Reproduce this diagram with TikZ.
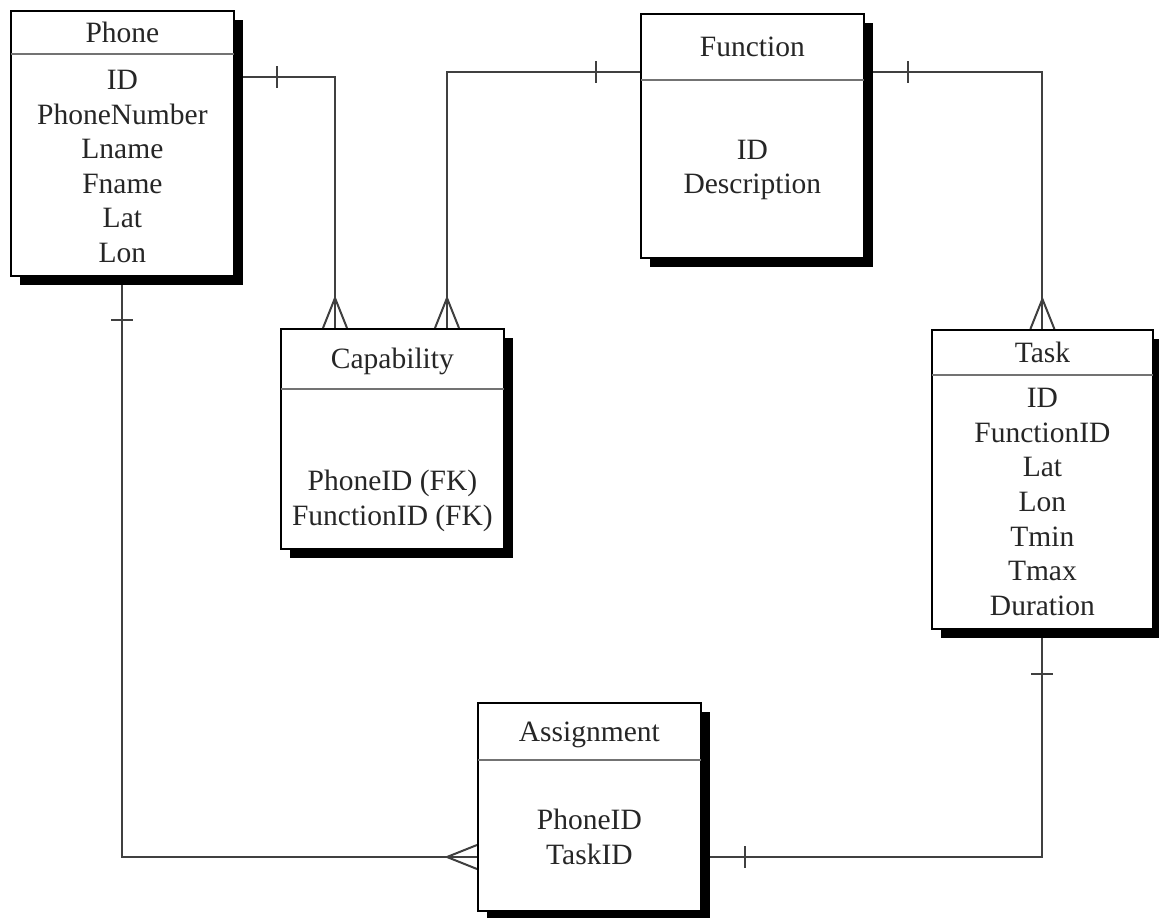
\documentclass[tikz,border=0pt]{standalone}
\usepackage{fontspec}
\setmainfont{Liberation Serif}
\usetikzlibrary{calc,shadows}
\pgfdeclarelayer{links}
\pgfdeclarelayer{paper}
\pgfsetlayers{paper,links,main}

\tikzset{
  entity/.style={draw=black, line width=1.8pt, fill=white, anchor=north west,
    inner sep=0pt,
    drop shadow={shadow xshift=9pt, shadow yshift=-9pt, fill=black, opacity=1}},
  headrule/.style={draw=black!55, line width=2.6pt},
  title/.style={font=\fontsize{29.5}{34.6}\selectfont, text=black!85,
    inner sep=0pt, text height=20pt, text depth=0pt, anchor=center},
  fields/.style={font=\fontsize{29.5}{34.6}\selectfont, text=black!85,
    inner sep=0pt, align=center, anchor=center},
  conn/.style={draw=black!75, line width=2pt},
}

% #1 name, #2 left, #3 top, #4 width, #5 height, #6 header height,
% #7 title, #8 centre of the field list, #9 fields
\newcommand\erentity[9]{%
  \node[entity, minimum width=#4pt, minimum height=#5pt] (#1) at (#2,#3) {};
  \draw[headrule] ([shift={(1pt,-#6pt)}]#1.north west) -- ([shift={(-1pt,-#6pt)}]#1.north east);
  \node[title] (#1-title) at ([yshift=-#6pt/2]#1.north) {#7};
  \node[fields] (#1-fields) at (#1.north |- 0,#8) {#9};
}

\begin{document}
\begin{tikzpicture}[x=1pt,y=-1pt]
\begin{pgfonlayer}{paper}
\fill[white] (0,0) rectangle (1159,918);
\end{pgfonlayer}
\useasboundingbox (0,0) rectangle (1159,918);

% entities
\erentity{phone}{10}{10}{223}{265}{44}{Phone}{166.5}{ID\\PhoneNumber\\Lname\\Fname\\Lat\\Lon}
\erentity{func}{640}{13}{223}{244}{67}{Function}{170}{ID\\Description}
\erentity{cap}{280}{328}{223}{220}{61}{Capability}{501}{PhoneID (FK)\\FunctionID (FK)}
\erentity{task}{931}{329}{221}{299}{46}{Task}{502}{ID\\FunctionID\\Lat\\Lon\\Tmin\\Tmax\\Duration}
\erentity{assign}{477}{702}{223}{208}{58}{Assignment}{837}{PhoneID\\TaskID}

\begin{pgfonlayer}{links}
% Phone -- Capability
\draw[conn] ([yshift=-67pt]phone.north east) -| ([xshift=55pt]cap.north west);
\draw[conn] ([shift={(42pt,-56pt)}]phone.north east) -- ([shift={(42pt,-78pt)}]phone.north east);
\draw[conn] ([xshift=43pt]cap.north west) -- ([shift={(55pt,30pt)}]cap.north west) -- ([xshift=67pt]cap.north west);

% Function -- Capability
\draw[conn] ([yshift=-59pt]func.north west) -| ([xshift=167pt]cap.north west);
\draw[conn] ([shift={(-44pt,-48pt)}]func.north west) -- ([shift={(-44pt,-70pt)}]func.north west);
\draw[conn] ([xshift=155pt]cap.north west) -- ([shift={(167pt,30pt)}]cap.north west) -- ([xshift=179pt]cap.north west);

% Function -- Task
\draw[conn] ([yshift=-59pt]func.north east) -| (task.north);
\draw[conn] ([shift={(43pt,-48pt)}]func.north east) -- ([shift={(43pt,-70pt)}]func.north east);
\draw[conn] ([xshift=-12pt]task.north) -- ([yshift=30pt]task.north) -- ([xshift=12pt]task.north);

% Phone -- Assignment
\draw[conn] (phone.south) |- ([yshift=-155pt]assign.north west);
\draw[conn] ([shift={(-11pt,-43pt)}]phone.south) -- ([shift={(11pt,-43pt)}]phone.south);
\draw[conn] ([yshift=-143pt]assign.north west) -- ([shift={(-30pt,-155pt)}]assign.north west) -- ([yshift=-167pt]assign.north west);

% Task -- Assignment
\draw[conn] (task.south) |- ([yshift=-155pt]assign.north east);
\draw[conn] ([shift={(-11pt,-44pt)}]task.south) -- ([shift={(11pt,-44pt)}]task.south);
\draw[conn] ([shift={(43pt,-144pt)}]assign.north east) -- ([shift={(43pt,-166pt)}]assign.north east);
\end{pgfonlayer}
\end{tikzpicture}
\end{document}
